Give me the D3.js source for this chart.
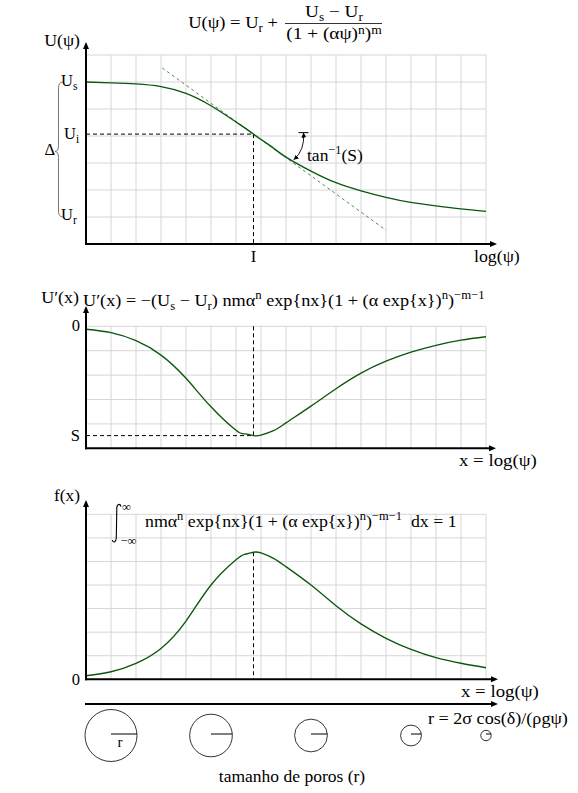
<!DOCTYPE html>
<html><head><meta charset="utf-8">
<script src="https://cdn.jsdelivr.net/npm/d3@7"></script>
<style>
html,body{margin:0;padding:0;background:#fff;}
svg{display:block;}
text{font-family:"Liberation Serif","Times New Roman",serif;fill:#000;white-space:pre;}
</style></head><body>
<svg id="c" width="578" height="793"></svg>
<script>
// ---------- data (grid units) ----------
const xLog =      [0,   1,   2,   3,   4,   5,   6,   6.35,6.7, 7,   7.5, 8,   9,   10,  11,  12,  13,  14,  15,  16];
const retention = [6.0, 5.97,5.93,5.83,5.58,5.12,4.52,4.30,4.07,3.87,3.55,3.22,2.70,2.27,1.97,1.73,1.54,1.41,1.30,1.21];
const derivative= [4.88,4.74,4.41,3.82,2.87,1.70,0.74,0.59,0.52,0.54,0.72,1.04,1.73,2.44,3.08,3.57,3.94,4.22,4.43,4.57];
const density   = [0.15,0.32,0.68,1.31,2.47,4.00,5.07,5.30,5.39,5.36,5.13,4.78,4.00,3.12,2.35,1.74,1.27,0.92,0.68,0.49];
const inflectionX = 6.7;
const levelUs = 6, levelUi = 4.07, levelUr = 1;
const levelZero = 5, levelS = 0.52, peakF = 5.39;
const tangentX = [3.05, 12];
const tangentY = [6.52, 0.51];
const poreX = [1, 5, 9, 13, 16];
const poreR = [5, 4.1, 3.15, 2.0, 1.0];

// ---------- scales ----------
const svg = d3.select("#c");
const x = d3.scaleLinear([0,16],[86,486]);
const yTop = d3.scaleLinear([0,7],[244,55]);
const yMid = d3.scaleLinear([0,5],[448.3,326.3]);
const yBot = d3.scaleLinear([0,7],[679.3,514.3]);
const rScale = d3.scaleLinear([0,5],[0,26]);
const GREEN = "#0b570d";

const defs = svg.append("defs");
defs.append("marker").attr("id","ah").attr("viewBox","0 0 10 10")
  .attr("refX",9).attr("refY",5).attr("markerWidth",5).attr("markerHeight",5)
  .attr("markerUnits","userSpaceOnUse").attr("orient","auto-start-reverse")
  .append("path").attr("d","M0,0 L10,5 L0,10 Z").attr("fill","#000");

function grid(y, nRows){
  const g = svg.append("g");
  g.selectAll("line.v").data(d3.range(1,17)).join("line")
    .attr("x1",d=>x(d)).attr("x2",d=>x(d)).attr("y1",y(0)).attr("y2",y(nRows))
    .attr("stroke","#d6d6d6").attr("stroke-width",1);
  g.selectAll("line.h").data(d3.range(1,nRows+1)).join("line")
    .attr("x1",x(0)).attr("x2",x(16)).attr("y1",d=>y(d)).attr("y2",d=>y(d))
    .attr("stroke","#d6d6d6").attr("stroke-width",1);
}
function arrowHead(px,py,dir){
  const L=7, W=3;
  const d = dir==="up" ? `M${px},${py} L${px-W},${py+L} L${px+W},${py+L} Z`
                       : `M${px},${py} L${px-L},${py-W} L${px-L},${py+W} Z`;
  svg.append("path").attr("d",d).attr("fill","#000");
}
function hAxis(py, rightTip){
  svg.append("line").attr("x1",x(0)-1).attr("x2",rightTip-5).attr("y1",py).attr("y2",py)
    .attr("stroke","#000").attr("stroke-width",2);
  arrowHead(rightTip,py,"right");
}
function axes(y, topTip, rightTip){
  svg.append("line").attr("x1",x(0)).attr("x2",x(0)).attr("y1",y(0)+1).attr("y2",topTip+5)
    .attr("stroke","#000").attr("stroke-width",2);
  arrowHead(x(0),topTip,"up");
  hAxis(y(0), rightTip);
}
function build(t, parts, size, supK){
  t.selectAll("tspan").remove();
  t.attr("font-size",size);
  let cur = 0;
  parts.forEach(p=>{
    const [s,type] = typeof p==="string" ? [p,"n"] : p;
    const off = type==="sup" ? -(supK||0.4)*size : type==="sub" ? 0.22*size : 0;
    t.append("tspan").text(s).attr("dy",off-cur)
      .attr("font-size", type==="n" ? size : size*0.7);
    cur = off;
  });
}
function mtext(px, py, parts, size, anchor, fitW, supK){
  const t = svg.append("text").attr("x",px).attr("y",py).attr("text-anchor",anchor||"start");
  build(t, parts, size, supK);
  if (fitW){
    let w = t.node().getBBox().width;
    let s2 = Math.max(15, Math.min(17.5, size*fitW/w));
    build(t, parts, s2, supK);
    w = t.node().getBBox().width;
    const k = fitW/w;
    if (Math.abs(k-1)>0.01) t.attr("transform",`translate(${px},0) scale(${k},1) translate(${-px},0)`);
  }
  return t;
}
function curve(y, vals, w){
  const line = d3.line().x((d,i)=>x(xLog[i])).y(d=>y(d)).curve(d3.curveNatural);
  svg.append("path").attr("d",line(vals)).attr("fill","none")
    .attr("stroke",GREEN).attr("stroke-width",w||1.35);
}
function dashed(x1,y1,x2,y2){
  svg.append("line").attr("x1",x1).attr("y1",y1).attr("x2",x2).attr("y2",y2)
    .attr("stroke","#000").attr("stroke-width",1).attr("stroke-dasharray","4,3");
}

// ---------- top panel ----------
grid(yTop,7);
dashed(x(0),yTop(levelUi),x(inflectionX),yTop(levelUi));
dashed(x(inflectionX),yTop(levelUi),x(inflectionX),yTop(0));
svg.append("line").attr("x1",x(tangentX[0])).attr("y1",yTop(tangentY[0]))
  .attr("x2",x(tangentX[1])).attr("y2",yTop(tangentY[1]))
  .attr("stroke","#226e22").attr("stroke-width",0.8).attr("stroke-dasharray","3,3");
curve(yTop, retention);
axes(yTop, 42, 497);

// tan^-1(S) annotation
svg.append("line").attr("x1",298.5).attr("x2",308.5).attr("y1",yTop(levelUi)-1.5).attr("y2",yTop(levelUi)-1.5)
  .attr("stroke","#000").attr("stroke-width",1);
svg.append("path").attr("d",`M303.5,${yTop(levelUi)-1} Q305,150 294,159.5`)
  .attr("fill","none").attr("stroke","#000").attr("stroke-width",0.9)
  .attr("marker-start","url(#ah)").attr("marker-end","url(#ah)");
mtext(307,161,["tan",["−1","sup"],"(S)"],16,"start",56);

// title formula
mtext(278,28,["U(ψ) = U",["r","sub"]," +"],16,"end",90);
mtext(334,17,["U",["s","sub"]," − U",["r","sub"]],16,"middle",58);
svg.append("line").attr("x1",285).attr("x2",382).attr("y1",23.5).attr("y2",23.5)
  .attr("stroke","#000").attr("stroke-width",0.8);
mtext(334,39,["(1 + (αψ)",["n","sup"],")",["m","sup"]],16,"middle",96,0.3);

// left labels & brace
mtext(80,46,["U(ψ)"],16,"end",36);
mtext(61,86,["U",["s","sub"]],16.5,"start");
mtext(64,139,["U",["i","sub"]],16.5,"start");
mtext(61,220,["U",["r","sub"]],16.5,"start");
mtext(55,155,["Δ"],16.5,"end");
const b1 = yTop(levelUs), b2 = yTop(levelUr), bm = (b1+b2)/2 + 2;
svg.append("path").attr("d",
  `M63,${b1} Q58.5,${b1} 58.5,${b1+6} L58.5,${bm-6} Q58.5,${bm} 55,${bm} Q58.5,${bm} 58.5,${bm+6} L58.5,${b2-6} Q58.5,${b2} 63,${b2}`)
  .attr("fill","none").attr("stroke","#777").attr("stroke-width",1);
mtext(x(inflectionX),262,["I"],16.5,"middle");
mtext(474,262,["log(ψ)"],16,"start",46);

// ---------- middle panel ----------
grid(yMid,5);
dashed(x(inflectionX),yMid(levelZero),x(inflectionX),yMid(levelS));
dashed(x(0),yMid(levelS),x(inflectionX),yMid(levelS));
curve(yMid, derivative);
axes(yMid, 306, 496);
mtext(79,303,["U′(x)"],16,"end",38);
mtext(83,306,["U′(x) = −(U",["s","sub"]," − U",["r","sub"],") nmα",["n","sup"]," exp{nx}(1 + (α exp{x})",["n","sup"],")",["−m−1","sup"]],16,"start",402);
mtext(80,331,["0"],16.5,"end");
mtext(80,441,["S"],16.5,"end");
mtext(459,466,["x = log(ψ)"],16,"start",78);

// ---------- bottom panel ----------
grid(yBot,7);
dashed(x(inflectionX),yBot(peakF),x(inflectionX),yBot(0));
curve(yBot, density);
axes(yBot, 500, 498);
mtext(80,501,["f(x)"],16,"end",26);
mtext(80,685,["0"],16.5,"end");
mtext(461,697,["x = log(ψ)"],16,"start",78);
svg.append("path").attr("d","M121,506.5 C120,503.3 117,503.8 116.8,508 L116.3,538 C116,542.5 113,543.2 112.4,540")
  .attr("fill","none").attr("stroke","#000").attr("stroke-width",1.1);
mtext(122,511,["∞"],12.5,"start");
mtext(120.5,544.5,["−∞"],12.5,"start");
mtext(145,527,["nmα",["n","sup"]," exp{nx}(1 + (α exp{x})",["n","sup"],")",["−m−1","sup"],"  dx = 1"],16,"start",312);

// ---------- pore size axis ----------
hAxis(704, 498);
mtext(428,724,["r = 2σ cos(δ)/(ρgψ)"],16,"start",140);
const cy = 735.5;
const pores = svg.append("g");
pores.selectAll("circle").data(poreX).join("circle")
  .attr("cx",d=>x(d)).attr("cy",cy).attr("r",(d,i)=>rScale(poreR[i]))
  .attr("fill","none").attr("stroke","#000").attr("stroke-width",0.8);
pores.selectAll("line").data(poreX).join("line")
  .attr("x1",d=>x(d)).attr("x2",(d,i)=>x(d)+rScale(poreR[i])).attr("y1",cy-1.5).attr("y2",cy-1.5)
  .attr("stroke","#000").attr("stroke-width",1);
mtext(x(poreX[0])+9,747,["r"],15,"middle");
mtext(292,782,["tamanho de poros (r)"],16,"middle",147);
</script>
</body></html>
